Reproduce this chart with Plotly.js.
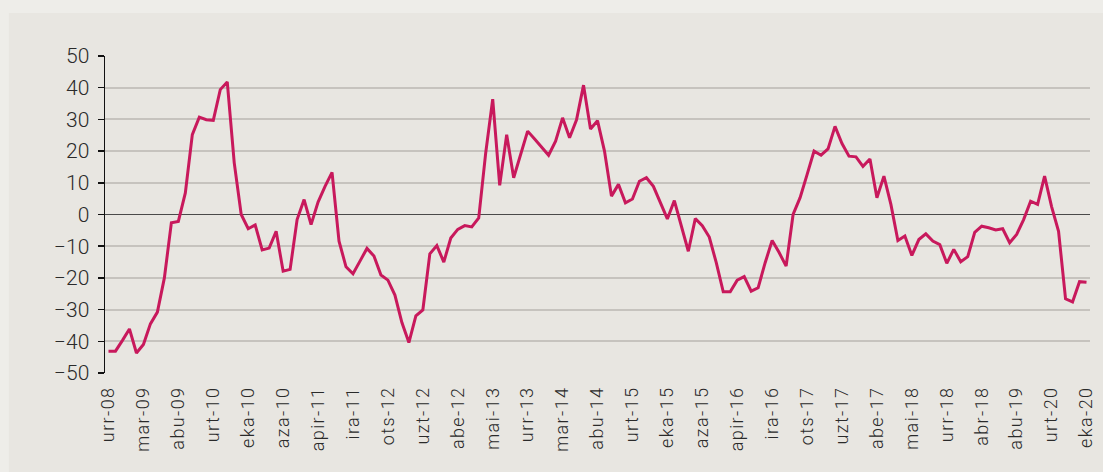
<!DOCTYPE html>
<html>
<head>
<meta charset="utf-8">
<script src="https://cdn.plot.ly/plotly-3.0.1.min.js"></script>
<style>
html,body{margin:0;padding:0;background:#eeede9;}
#chart{width:1103px;height:472px;}
#chart .xtick text{letter-spacing:1.4px;}
</style>
</head>
<body>
<div id="chart"></div>
<script>
// Months (Basque abbreviations), urr-08 .. eka-20
const months = [
  "urr-08","aza-08","abe-08",
  "urt-09","ots-09","mar-09","apir-09","mai-09","eka-09","uzt-09","abu-09","ira-09","urr-09","aza-09","abe-09",
  "urt-10","ots-10","mar-10","apir-10","mai-10","eka-10","uzt-10","abu-10","ira-10","urr-10","aza-10","abe-10",
  "urt-11","ots-11","mar-11","apir-11","mai-11","eka-11","uzt-11","abu-11","ira-11","urr-11","aza-11","abe-11",
  "urt-12","ots-12","mar-12","apir-12","mai-12","eka-12","uzt-12","abu-12","ira-12","urr-12","aza-12","abe-12",
  "urt-13","ots-13","mar-13","apir-13","mai-13","eka-13","uzt-13","abu-13","ira-13","urr-13","aza-13","abe-13",
  "urt-14","ots-14","mar-14","apir-14","mai-14","eka-14","uzt-14","abu-14","ira-14","urr-14","aza-14","abe-14",
  "urt-15","ots-15","mar-15","apir-15","mai-15","eka-15","uzt-15","abu-15","ira-15","urr-15","aza-15","abe-15",
  "urt-16","ots-16","mar-16","apir-16","mai-16","eka-16","uzt-16","abu-16","ira-16","urr-16","aza-16","abe-16",
  "urt-17","ots-17","mar-17","apir-17","mai-17","eka-17","uzt-17","abu-17","ira-17","urr-17","aza-17","abe-17",
  "urt-18","ots-18","mar-18","apir-18","mai-18","eka-18","uzt-18","abu-18","ira-18","urr-18","aza-18","abe-18",
  "urt-19","ots-19","mar-19","apir-19","mai-19","eka-19","uzt-19","abu-19","ira-19","urr-19","aza-19","abe-19",
  "urt-20","ots-20","mar-20","apir-20","mai-20","eka-20"
];

// Series values
const values = [
  -43.1,-43.1,-39.7,
  -36.1,-43.7,-41.0,-34.5,-30.8,-20.0,-2.6,-2.2,6.8,25.2,30.7,29.9,
  29.7,39.4,41.8,16.3,0.0,-4.5,-3.3,-11.2,-10.6,-5.3,-17.9,-17.3,
  -1.6,4.7,-3.2,3.9,8.9,13.3,-8.4,-16.5,-18.7,-14.7,-10.7,-13.1,
  -19.1,-20.7,-25.4,-34.1,-40.4,-32.0,-30.1,-12.4,-9.8,-15.0,-7.4,-4.7,
  -3.5,-3.9,-1.1,19.5,36.4,9.2,25.2,11.6,18.9,26.3,23.8,21.3,
  18.7,23.1,30.5,24.2,29.9,40.8,27.0,29.6,20.0,5.8,9.5,3.7,
  4.9,10.5,11.6,8.9,3.9,-1.4,4.4,-4.0,-11.6,-1.3,-3.5,-7.1,
  -15.2,-24.4,-24.4,-20.7,-19.6,-24.2,-23.1,-15.2,-8.2,-12.0,-16.3,0.0,
  5.3,12.6,20.0,18.7,20.7,27.8,22.4,18.4,18.2,15.2,17.5,5.3,
  12.1,3.2,-8.2,-6.8,-12.9,-7.9,-6.1,-8.4,-9.5,-15.4,-11.0,-14.9,
  -13.3,-5.6,-3.7,-4.2,-4.9,-4.5,-8.9,-6.3,-1.6,4.2,3.2,12.1,
  2.5,-5.3,-26.6,-27.6,-21.2,-21.4
];

// Tick positions (categories) and the labels shown under them
const tickVals = ["urr-08","mar-09","abu-09","urt-10","eka-10","aza-10","apir-11","ira-11","ots-12","uzt-12",
  "abe-12","mai-13","urr-13","mar-14","abu-14","urt-15","eka-15","aza-15","apir-16","ira-16",
  "ots-17","uzt-17","abe-17","mai-18","urr-18","mar-19","abu-19","urt-20","eka-20"];
const tickText = ["urr-08","mar-09","abu-09","urt-10","eka-10","aza-10","apir-11","ira-11","ots-12","uzt-12",
  "abe-12","mai-13","urr-13","mar-14","abu-14","urt-15","eka-15","aza-15","apir-16","ira-16",
  "ots-17","uzt-17","abe-17","mai-18","urr-18","abr-18","abu-19","urt-20","eka-20"];
const yTicks = [-50,-40,-30,-20,-10,0,10,20,30,40,50];

const trace = {
  type: 'scatter',
  mode: 'lines',
  x: months,
  y: values,
  line: {color: '#c8195c', width: 3},
  hoverinfo: 'x+y'
};

const FONT = 'Roboto, "Liberation Sans", Arial, sans-serif';

const layout = {
  width: 1103,
  height: 472,
  margin: {l: 105, r: 13, t: 56, b: 99, pad: 0},
  paper_bgcolor: '#eeede9',
  plot_bgcolor: 'rgba(0,0,0,0)',
  showlegend: false,
  font: {family: FONT, color: '#2a2a2a'},
  shapes: [{
    type: 'rect', xref: 'paper', yref: 'paper', layer: 'below',
    x0: -0.0975, x1: 1.05, y0: -0.36, y1: 1.1356,
    fillcolor: '#e8e6e1', line: {width: 0}
  }],
  xaxis: {
    type: 'category',
    range: [-0.5, 140.5],
    tickmode: 'array',
    tickvals: tickVals,
    ticktext: tickText,
    tickangle: -90,
    showgrid: false,
    zeroline: false,
    showline: false,
    ticks: '',
    ticklabelstandoff: 9,
    tickfont: {size: 18, color: '#2a2a2a', family: FONT, weight: 300}
  },
  yaxis: {
    range: [-50, 50],
    tickmode: 'array',
    tickvals: yTicks,
    showgrid: true,
    gridcolor: '#c6c3be',
    gridwidth: 2,
    zeroline: true,
    zerolinecolor: '#4a4a4a',
    zerolinewidth: 1.5,
    showline: true,
    linecolor: '#111111',
    linewidth: 1.5,
    ticks: 'outside',
    ticklen: 6,
    tickwidth: 1.5,
    tickcolor: '#111111',
    ticklabelstandoff: 4,
    tickfont: {size: 21, color: '#2a2a2a', family: FONT, weight: 300}
  }
};

Plotly.newPlot('chart', [trace], layout, {displayModeBar: false, staticPlot: true});
</script>
</body>
</html>
